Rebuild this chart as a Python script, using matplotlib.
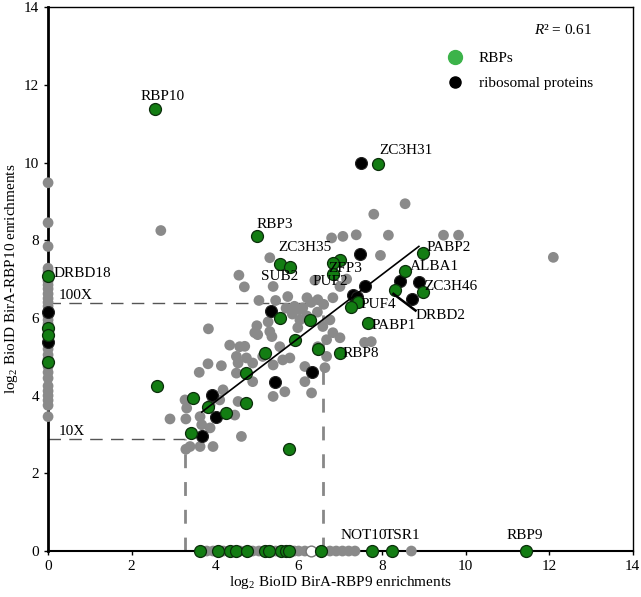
import matplotlib
matplotlib.use("Agg")
import matplotlib.pyplot as plt
from matplotlib.lines import Line2D

plt.rcParams['font.family'] = ['Liberation Serif', 'DejaVu Serif']
plt.rcParams['mathtext.fontset'] = 'custom'
plt.rcParams['mathtext.rm'] = 'Liberation Serif'
plt.rcParams['mathtext.it'] = 'Liberation Serif:italic'

# ---- data ----
gray_x = [2.70, 4.57, 4.70, 3.84, 4.59,
          6.79, 7.06, 7.38, 8.15, 7.80, 8.55, 9.47, 9.83, 7.96, 12.1,
          5.31, 6.39, 5.39, 5.74, 6.20, 6.46, 6.82, 5.90, 6.10, 6.03, 6.03,
          5.00, 4.95, 5.31, 4.71, 4.51, 4.90, 5.14, 5.62, 6.67, 6.63, 7.58, 7.74,
          6.67, 6.82, 6.58, 6.75, 5.98, 5.27, 5.02, 5.36, 5.55, 6.99, 6.46,
          4.75, 5.39, 5.79, 6.15, 6.15, 5.67, 5.39, 6.31, 4.63, 4.90,
          3.83, 4.15, 3.62, 4.55, 4.51, 3.28, 3.32, 2.92, 3.30, 3.64, 4.11, 4.19,
          4.55, 4.47, 3.88, 3.68, 3.95, 3.64, 3.40, 3.30, 3.88,
          5.85, 6.20, 6.45, 6.60, 6.30, 5.70, 5.05, 5.45, 6.99, 7.15, 4.35]
gray_y = [8.25, 7.10, 6.80, 5.72, 5.26,
          8.06, 8.10, 8.14, 8.13, 8.67, 8.94, 8.13, 8.13, 7.61, 7.56,
          7.55, 6.97, 6.81, 6.55, 6.52, 6.47, 6.52, 6.30, 6.26, 6.21, 5.95,
          5.80, 5.62, 5.65, 5.27, 5.01, 4.84, 5.01, 4.92, 5.01, 4.72, 5.37, 5.39,
          5.44, 5.62, 5.78, 5.95, 5.75, 5.90, 5.57, 5.52, 5.26, 5.49, 5.26,
          4.97, 4.79, 4.97, 4.75, 4.36, 4.10, 3.98, 4.07, 2.95, 4.36,
          4.82, 4.77, 4.60, 4.84, 4.58, 3.89, 3.68, 3.40, 3.40, 3.46, 3.89, 4.15,
          3.85, 3.50, 3.17, 3.25, 2.69, 2.69, 2.69, 2.62, 3.76,
          6.10, 6.05, 6.15, 6.35, 6.40, 6.25, 6.45, 6.45, 6.81, 7.00, 5.30]
gray_yaxis = [9.48, 8.45, 7.84, 7.28, 7.20, 6.95, 6.85, 6.75, 6.62, 6.50, 6.40,
              6.30, 6.05, 5.95, 5.85, 5.20, 5.05, 4.95, 4.75, 4.60, 4.45, 4.25,
              4.12, 4.00, 3.88, 3.75, 3.46]
gray_xaxis = [3.80, 3.95, 4.20, 4.60, 4.90, 5.05, 5.35, 5.45, 5.90, 6.00, 6.15,
              6.75, 6.90, 7.05, 7.20, 7.35, 8.70]
open_xaxis = [6.30]

black_x = [7.50, 7.46, 7.58, 7.30, 7.39, 8.42, 8.88, 8.71, 5.33, 6.31, 5.43,
           3.92, 4.03, 3.68, 0.0, 0.0]
black_y = [10.00, 7.65, 6.83, 6.60, 6.55, 6.96, 6.93, 6.50, 6.19, 4.60, 4.36,
           4.02, 3.46, 2.97, 6.16, 5.39]

green_x = [2.56, 7.90, 5.00, 7.00, 6.82, 6.82, 5.55, 5.79, 7.42, 7.25, 7.66,
           6.99, 8.97, 8.54, 8.97, 8.30, 5.55, 6.27, 5.19, 6.46, 4.75, 4.74,
           5.77, 5.91, 2.60, 3.46, 3.83, 4.26, 3.42,
           0.0, 0.0, 0.0, 0.0,
           3.65, 4.07, 4.35, 4.50, 4.76, 5.19, 5.29, 5.57, 5.69, 5.77, 6.53,
           7.75, 8.24, 11.44]
green_y = [11.37, 9.95, 8.12, 7.50, 7.42, 7.14, 7.40, 7.30, 6.42, 6.29, 5.87,
           5.10, 7.68, 7.22, 6.68, 6.73, 6.00, 5.95, 5.11, 5.20, 4.58, 3.81,
           2.63, 5.44, 4.26, 3.94, 3.72, 3.56, 3.05,
           7.09, 5.75, 5.57, 4.87,
           0, 0, 0, 0, 0, 0, 0, 0, 0, 0, 0,
           0, 0, 0]

labels = ["RBP10", "ZC3H31", "RBP3", "ZC3H35", "ZFP3", "PUF2", "SUB2", "PUF4",
          "PABP1", "RBP8", "PABP2", "ALBA1", "ZC3H46", "DRBD2", "DRBD18",
          "NOT10", "TSR1", "RBP9"]
label_x = [2.75, 8.56, 5.43, 6.15, 7.12, 6.75, 5.55, 7.90, 8.27, 7.50, 9.59,
           9.25, 9.64, 9.41, 0.81, 7.56, 8.49, 11.41]
label_y = [11.70, 10.32, 8.40, 7.81, 7.27, 6.95, 7.06, 6.34, 5.80, 5.08, 7.81,
           7.32, 6.80, 6.07, 7.14, 0.41, 0.41, 0.41]

fit_x = [3.68, 8.88]
fit_slope = 0.82
fit_intercept = 0.56
r_squared = 0.61

thresh_y = [2.89, 6.39]       # 10X, 100X
thresh_x = [3.29, 6.58]
thresh_labels = ["10X", "100X"]

ticks = [0, 2, 4, 6, 8, 10, 12, 14]

# ---- figure ----
fig = plt.figure(figsize=(6.41, 5.97), dpi=100)
ax = fig.add_axes([0.075, 0.077, 0.912, 0.911])

gcol = '#8a8a8a'
ax.scatter(gray_x, gray_y, s=60, c=gcol, edgecolors='none', zorder=3)
ax.scatter([0.0] * len(gray_yaxis), gray_yaxis, s=60, c=gcol, edgecolors='none', zorder=3, clip_on=False)
ax.scatter(gray_xaxis, [0.0] * len(gray_xaxis), s=60, c=gcol, edgecolors='none', zorder=3, clip_on=False)
ax.scatter(open_xaxis, [0.0] * len(open_xaxis), s=60, c='white', edgecolors='#777777', linewidths=1, zorder=3, clip_on=False)
ax.scatter(black_x, black_y, s=74, c='black', edgecolors='#222222', linewidths=0.8, zorder=4, clip_on=False)
ax.scatter(green_x, green_y, s=74, c='#137d13', edgecolors='#0b2e0b', linewidths=0.9, zorder=5, clip_on=False)

# regression line
ax.plot(fit_x, [fit_slope * v + fit_intercept for v in fit_x], color='black', lw=1.2, zorder=6)

# threshold dashed lines
for tx, ty, tl in zip(thresh_x, thresh_y, thresh_labels):
    ax.plot([0, tx], [ty, ty], color='#555555', lw=1.0, dashes=(9, 6), zorder=1)
    ax.plot([tx, tx], [0, ty], color='#888888', lw=2.0, dashes=(5, 5), zorder=1)
    ax.text(0.25, ty + 0.02, tl, fontsize=11, ha='left', va='bottom', zorder=7)

# point labels
for t, lx, ly in zip(labels, label_x, label_y):
    ax.text(lx, ly, t, fontsize=11, ha='center', va='center', zorder=7)

# DRBD2 leader line
ax.plot([8.27, 8.80], [6.62, 6.19], color='black', lw=1.8, zorder=6)

ax.text(12.34, 13.4, r'$R$² = ' + f'{r_squared:.2f}', fontsize=11,
        ha='center', va='center')

handles = [Line2D([], [], marker='o', ls='', markersize=10, markerfacecolor='#3cb34a',
                  markeredgecolor='#3cb34a'),
           Line2D([], [], marker='o', ls='', markersize=8, markerfacecolor='black',
                  markeredgecolor='black')]
ax.legend(handles, ["RBPs", "ribosomal proteins"], loc='upper left',
          bbox_to_anchor=(0.66, 0.93), frameon=False, fontsize=11,
          handletextpad=0.55, labelspacing=0.75, borderaxespad=0)

ax.set_xlim(0, 14)
ax.set_ylim(0, 14)
ax.set_xticks(ticks)
ax.set_yticks(ticks)
ax.tick_params(labelsize=11, length=3, width=1)
for sp in ax.spines.values():
    sp.set_linewidth(1.0)
ax.spines['left'].set_linewidth(2.0)
ax.spines['bottom'].set_linewidth(1.5)

ax.set_xlabel(r'log$_2$ BioID BirA-RBP9 enrichments', fontsize=11, labelpad=1)
ax.set_ylabel(r'log$_2$ BioID BirA-RBP10 enrichments', fontsize=11, labelpad=3)

fig.savefig('out.png', dpi=100)
